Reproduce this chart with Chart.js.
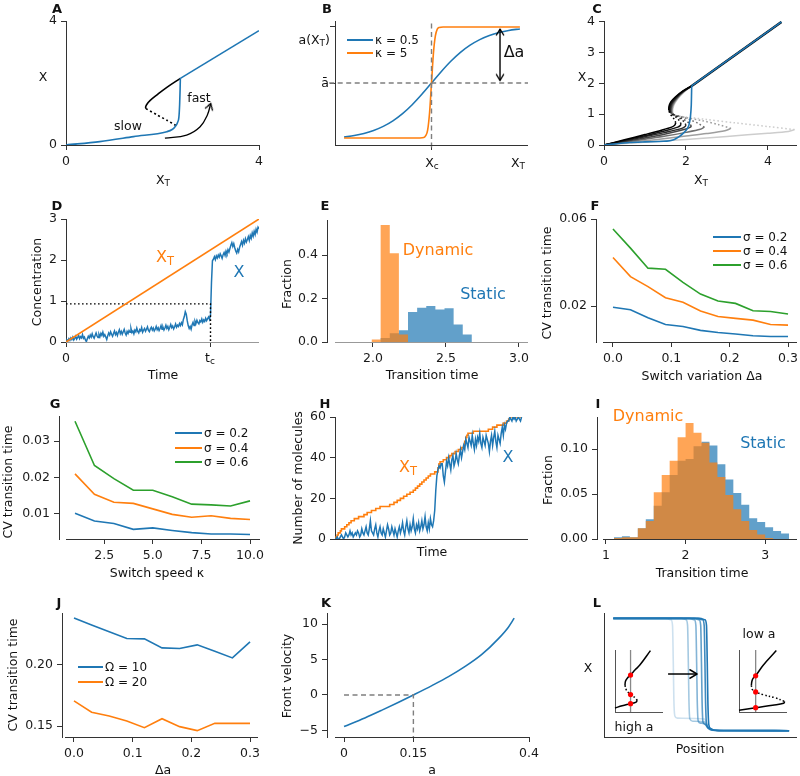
<!DOCTYPE html>
<html><head><meta charset="utf-8">
<script src="https://cdn.jsdelivr.net/npm/chart.js@4/dist/chart.umd.min.js"></script>
<style>
html,body{margin:0;padding:0;background:#fff;}
#root{position:relative;width:800px;height:776px;overflow:hidden;background:#fff;font-family:'DejaVu Sans',sans-serif;color:#111;}
#root canvas{position:absolute;}
.t{position:absolute;white-space:nowrap;line-height:1;transform:translate(-50%,-50%);}
.t sub{font-size:72%;vertical-align:-0.28em;line-height:0;}
.lg{position:absolute;height:1.6px;}
</style></head><body><div id="root"></div>
<script>
// ---------------- data ----------------
// A: bifurcation sketch
const aBlue = [[0,0],[0.7,0.11],[1.4,0.27],[2.09,0.43],[2.2,0.5],[2.26,0.59],[2.31,0.72],[2.34,0.9],[2.355,1.3],[2.365,1.8],[2.37,2.15]];
const aBlueHigh = [[2.37,2.15],[4,3.69]];
const aUpper = [[2.37,2.15],[2.09,1.86],[1.88,1.61],[1.74,1.43],[1.67,1.3],[1.65,1.22],[1.66,1.17]];
const aUnstable = [[1.66,1.17],[1.9,0.96],[2.1,0.79],[2.28,0.63]];
const aArrow = [[2.05,0.22],[2.5,0.32],[2.78,0.59],[2.93,0.97],[3.0,1.34]];
// B: switch functions
const bX = [0.047,0.1,0.15,0.2,0.25,0.3,0.35,0.4,0.45,0.5,0.55,0.6,0.65,0.7,0.75,0.8,0.85,0.9,0.958];
const bK05 = [0.064,0.076,0.093,0.117,0.150,0.195,0.253,0.325,0.409,0.5,0.591,0.675,0.747,0.805,0.850,0.883,0.907,0.924,0.936];
const bX5 = [0.047,0.44,0.46,0.47,0.48,0.49,0.5,0.51,0.52,0.53,0.54,0.56,0.958];
const bK5 = [0.056,0.057,0.06,0.075,0.12,0.26,0.5,0.74,0.88,0.935,0.948,0.952,0.952];
const bDeltaA = [[0.855,0.52],[0.855,0.935]];
// C: family of bifurcation curves
const cLower = [
 [[0,0],[0.5,0.17],[1.0,0.34],[1.4,0.48],[1.65,0.58],[1.73,0.65],[1.75,0.72]],
 [[0,0],[0.5,0.15],[1.0,0.3],[1.5,0.46],[1.8,0.58],[1.86,0.63],[1.88,0.68]],
 [[0,0],[0.5,0.13],[1.0,0.27],[1.5,0.41],[1.9,0.54],[1.98,0.6],[2.0,0.65]],
 [[0,0],[0.5,0.11],[1.0,0.23],[1.5,0.36],[2.0,0.52],[2.11,0.58],[2.13,0.62]],
 [[0,0],[0.5,0.09],[1.0,0.19],[1.5,0.29],[2.0,0.41],[2.35,0.51],[2.45,0.58]],
 [[0,0],[0.5,0.07],[1.0,0.14],[1.5,0.21],[2.0,0.29],[2.5,0.37],[2.95,0.46],[3.1,0.54]],
 [[0,0],[1.0,0.09],[2.0,0.18],[3.0,0.28],[4.0,0.38],[4.5,0.44],[4.65,0.5]]
];
const cUnstable = [
 [[1.75,0.72],[1.73,0.8],[1.68,0.9],[1.62,1.0],[1.58,1.12]],
 [[1.88,0.68],[1.85,0.77],[1.78,0.88],[1.68,0.98],[1.6,1.08]],
 [[2.0,0.65],[1.96,0.74],[1.87,0.85],[1.75,0.95],[1.62,1.05]],
 [[2.13,0.62],[2.07,0.72],[1.95,0.83],[1.8,0.93],[1.64,1.02]],
 [[2.45,0.58],[2.3,0.7],[2.1,0.82],[1.88,0.92],[1.66,1.0]],
 [[3.1,0.54],[2.8,0.66],[2.4,0.79],[2.0,0.89],[1.68,0.98]],
 [[4.65,0.5],[4.0,0.6],[3.2,0.72],[2.5,0.83],[1.7,0.96]]
];
const cUpper = [
 [[1.58,1.12],[1.585,1.25],[1.63,1.4],[1.74,1.56],[1.92,1.75],[2.14,1.92]],
 [[1.6,1.08],[1.6,1.22],[1.645,1.38],[1.75,1.55],[1.93,1.75],[2.14,1.92]],
 [[1.62,1.05],[1.615,1.19],[1.655,1.36],[1.76,1.54],[1.93,1.74],[2.14,1.92]],
 [[1.64,1.02],[1.63,1.16],[1.665,1.34],[1.77,1.53],[1.94,1.74],[2.14,1.92]],
 [[1.66,1.0],[1.645,1.13],[1.68,1.32],[1.78,1.52],[1.94,1.73],[2.14,1.92]],
 [[1.68,0.98],[1.66,1.1],[1.69,1.3],[1.79,1.51],[1.95,1.73],[2.14,1.92]],
 [[1.7,0.96],[1.675,1.08],[1.7,1.28],[1.8,1.5],[1.95,1.72],[2.14,1.92]]
];
const cHigh = [[2.14,1.92],[4.33,4.0]];
const cBlue = [[0,0],[0.63,0.08],[1.0,0.1],[1.45,0.12],[1.61,0.14],[1.7,0.17],[1.77,0.22],[1.85,0.29],[1.93,0.38],[2.0,0.47],[2.06,0.6],[2.09,0.75],[2.11,0.92],[2.13,1.3],[2.14,1.92]];
const cGrays = ['#000000','#161616','#2b2b2b','#454545','#707070','#9e9e9e','#cdcdcd'];
// D: stochastic trajectory (sample index on the time axis)
const dX = [0.02,0.05,0.03,0.08,0.04,0.10,0.06,0.12,0.05,0.09,0.14,0.07,0.11,0.16,0.08,0.13,0.10,0.18,0.09,0.12,
 0.05,0.01,0.08,0.14,0.10,0.17,0.12,0.20,0.13,0.09,0.16,0.22,0.15,0.11,0.19,0.13,0.21,0.16,0.24,0.14,
 0.18,0.12,0.06,0.15,0.22,0.17,0.25,0.19,0.14,0.21,0.27,0.18,0.23,0.16,0.24,0.30,0.20,0.26,0.19,0.25,
 0.31,0.22,0.17,0.26,0.21,0.28,0.24,0.33,0.23,0.27,0.20,0.29,0.25,0.34,0.26,0.22,0.30,0.27,0.35,0.24,
 0.29,0.33,0.26,0.31,0.37,0.28,0.25,0.32,0.36,0.29,0.34,0.27,0.31,0.38,0.30,0.35,0.28,0.33,0.40,0.31,
 0.36,0.29,0.34,0.41,0.33,0.38,0.30,0.36,0.43,0.35,0.39,0.32,0.37,0.44,0.36,0.41,0.38,0.45,0.40,0.47,
 0.42,0.55,0.62,0.74,0.68,0.52,0.40,0.33,0.38,0.31,0.42,0.48,0.40,0.51,0.45,0.53,0.47,0.44,0.52,0.49,
 0.56,0.48,0.54,0.50,0.58,0.52,0.57,0.61,0.55,0.66,
 1.45,1.98,2.02,2.08,2.01,2.10,2.05,2.12,2.07,2.15,2.10,2.04,2.13,2.18,2.11,2.22,2.16,2.25,2.19,2.28,
 2.36,2.42,2.33,2.40,2.30,2.22,2.17,2.26,2.20,2.31,
 2.38,2.45,2.36,2.48,2.41,2.52,2.44,2.50,2.57,2.48,2.60,2.53,2.66,2.58,2.70,2.62,2.75,2.68,2.80,2.76];
const dXT = [[0,0],[199,3]];
const dTc = 149, dThreshold = 0.93;
// E: transition-time histograms
const eEdges = [1.99,2.0525,2.115,2.1775,2.24,2.3025,2.365,2.4275,2.49,2.5525,2.615,2.6775];
const eDynamic = [0.012,0.538,0.408,0.034,0,0,0,0,0,0,0];
const eStatic = [0,0.018,0.04,0.054,0.138,0.158,0.165,0.15,0.155,0.08,0.034];
// F
const fDa = [0,0.03,0.06,0.09,0.12,0.15,0.18,0.21,0.24,0.27,0.30];
const fS02 = [0.0194,0.0183,0.0146,0.0115,0.0106,0.0088,0.0078,0.0071,0.0063,0.006,0.006];
const fS04 = [0.0423,0.0335,0.0289,0.0238,0.0217,0.0177,0.0152,0.0143,0.0135,0.0115,0.0112];
const fS06 = [0.0554,0.0466,0.0374,0.0369,0.0309,0.0255,0.0223,0.0212,0.0178,0.0175,0.0163];
// G
const gK = [1,2,3,4,5,6,7,8,9,10];
const gS02 = [0.0102,0.0081,0.0074,0.0058,0.0062,0.0055,0.0049,0.0045,0.0045,0.0044];
const gS04 = [0.021,0.0154,0.0132,0.0129,0.0114,0.0099,0.0091,0.0095,0.0088,0.0085];
const gS06 = [0.0354,0.0233,0.0197,0.0165,0.0165,0.0147,0.0127,0.0125,0.0122,0.0136];
// H: molecule counts (sample index on the time axis)
const hXT = [[0,0],[1,1],[2,2],[3,3],[5,4],[6,5],[9,6],[11,7],[13,8],[15,9],[18,10],[22,11],[27,12],[30,13],[34,14],[38,15],[42,16],[51,17],[55,18],[58,19],[61,20],[64,21],[67,22],[70,23],[73,24],[75,25],[77,26],[79,27],[81,28],[83,29],[85,30],[87,31],[89,32],[93,33],[96,35],[97,37],[98,38],[101,39],[104,40],[107,41],[109,42],[112,43],[115,44],[118,45],[120,46],[121,48],[122,50],[123,51],[124,52],[129,53],[143,54],[147,55],[151,56],[157,57],[160,58],[162,59],[163,60],[174,60]];
const hX = [0,0,1,0,0,1,2,1,0,1,3,2,1,2,4,2,3,1,2,3,
 2,4,3,1,2,5,3,2,4,6,3,2,5,9,4,3,2,5,7,3,
 1,4,6,3,2,5,3,1,4,7,5,2,3,6,4,2,5,3,1,4,
 6,3,5,8,4,2,6,9,5,3,7,4,6,10,5,3,7,5,8,4,
 6,9,5,7,11,6,4,8,5,10,7,6,9,14,24,31,34,36,35,37,
 37,31,28,33,38,36,40,37,34,39,41,36,38,42,39,37,41,44,40,43,
 46,44,49,47,45,50,48,46,51,47,44,49,46,50,48,52,47,45,50,48,
 46,51,49,47,43,48,51,46,50,53,48,45,51,49,47,52,55,51,56,54,
 57,58,58,60,59,58,60,59,60,58,59,60,59,58,60];
// I
const iEdges = [1.1,1.2,1.3,1.4,1.5,1.6,1.7,1.8,1.9,2.0,2.1,2.2,2.3,2.4,2.5,2.6,2.7,2.8,2.9,3.0,3.1,3.2,3.3];
const iStatic = [0.002,0.003,0.002,0.012,0.022,0.037,0.052,0.071,0.087,0.089,0.103,0.108,0.104,0.083,0.066,0.051,0.038,0.023,0.019,0.013,0.009,0.006];
const iDynamic = [0.001,0.002,0.002,0.012,0.02,0.052,0.071,0.087,0.113,0.129,0.118,0.107,0.085,0.069,0.049,0.033,0.02,0.01,0.005,0.001,0,0];
// J
const jDa = [0,0.03,0.06,0.09,0.12,0.15,0.18,0.21,0.24,0.27,0.30];
const jO10 = [0.2385,0.2327,0.2272,0.2217,0.2214,0.214,0.2135,0.2165,0.2113,0.2058,0.219];
const jO20 = [0.1706,0.1613,0.1582,0.1541,0.1486,0.156,0.1495,0.1462,0.1522,0.1522,0.1522];
// K
const kA = [0,0.045,0.081,0.117,0.15,0.19,0.226,0.262,0.298,0.334,0.355,0.368];
const kV = [-4.45,-3.235,-2.17,-1.06,0,1.32,2.58,4.02,5.71,7.94,9.52,10.82];
const kGuide = [[0,0],[0.15,0],[0.15,-5.92]];
// L: travelling fronts and insets
const lFronts = [
 [[0.048,0.957],[0.495,0.957],[0.523,0.945],[0.531,0.9],[0.535,0.6],[0.538,0.3],[0.543,0.1],[0.552,0.07],[0.57,0.055],[0.62,0.051],[0.959,0.051]],
 [[0.048,0.957],[0.483,0.957],[0.511,0.945],[0.519,0.9],[0.523,0.6],[0.526,0.3],[0.531,0.11],[0.542,0.075],[0.56,0.056],[0.6,0.052],[0.959,0.051]],
 [[0.048,0.957],[0.465,0.957],[0.493,0.945],[0.501,0.9],[0.505,0.6],[0.508,0.3],[0.513,0.12],[0.525,0.1],[0.54,0.07],[0.56,0.055],[0.6,0.052],[0.959,0.051]],
 [[0.048,0.957],[0.44,0.957],[0.468,0.945],[0.476,0.9],[0.48,0.6],[0.483,0.3],[0.488,0.13],[0.5,0.112],[0.52,0.108],[0.54,0.072],[0.56,0.056],[0.6,0.052],[0.959,0.051]],
 [[0.048,0.957],[0.40,0.957],[0.425,0.945],[0.433,0.9],[0.437,0.6],[0.44,0.3],[0.445,0.145],[0.46,0.127],[0.52,0.122],[0.54,0.075],[0.56,0.058],[0.6,0.052],[0.959,0.051]],
 [[0.048,0.957],[0.32,0.957],[0.347,0.945],[0.355,0.9],[0.359,0.6],[0.362,0.3],[0.367,0.17],[0.38,0.152],[0.52,0.145],[0.54,0.08],[0.56,0.06],[0.6,0.052],[0.959,0.051]]
];
const lAlphas = [1,0.85,0.7,0.55,0.4,0.22];
const lArrow = [[0.332,0.508],[0.482,0.508]];
const lHighUp = [[0.207,0.43],[0.22,0.5],[0.26,0.55],[0.324,0.595],[0.42,0.68],[0.517,0.757],[0.738,0.99]];
const lHighMid = [[0.207,0.43],[0.24,0.35],[0.324,0.281],[0.42,0.23],[0.462,0.19]];
const lHighLow = [[0.462,0.19],[0.44,0.16],[0.324,0.135],[0.15,0.1],[0,0.065]];
const lHighDots = [[0.324,0.595],[0.324,0.281],[0.324,0.135]];
const lHighLine = [[0.324,0],[0.324,1]];
const lLowUp = [[0.257,0.43],[0.27,0.5],[0.3,0.55],[0.347,0.584],[0.5,0.75],[0.778,0.99]];
const lLowMid = [[0.257,0.43],[0.28,0.36],[0.347,0.324],[0.5,0.28],[0.75,0.23],[0.951,0.17]];
const lLowLow = [[0.951,0.17],[0.93,0.14],[0.7,0.11],[0.347,0.07],[0,0.027]];
const lLowDots = [[0.347,0.584],[0.347,0.324],[0.347,0.07]];
const lLowLine = [[0.347,0],[0.347,1]];

// ---------------- setup ----------------
const BLUE='#1f77b4', ORANGE='#ff7f0e', GREEN='#2ca02c', SP='#333', GRAY='#7f7f7f';
const FONT="'DejaVu Sans', sans-serif";
Chart.defaults.font.family=FONT; Chart.defaults.font.size=12.5; Chart.defaults.color='#1a1a1a';
Chart.defaults.plugins.legend.display=false; Chart.defaults.plugins.tooltip.enabled=false;
Chart.defaults.animation=false;
const root=document.getElementById('root');

Chart.register({id:'spines', defaults:{off:null,color:SP}, afterDraw(chart,args,o){
  if(o.off===null||o.off===undefined) return;
  const a=chart.chartArea,c=chart.ctx; c.save(); c.strokeStyle=o.color; c.lineWidth=1;
  const y=Math.round(a.bottom)+0.5; c.beginPath(); c.moveTo(a.left+o.off,y); c.lineTo(a.right,y); c.stroke(); c.restore();
}});

function chev(color,s,lw){
  const c=document.createElement('canvas'); c.width=c.height=2*s+6; const g=c.getContext('2d'); const m=s+3;
  g.strokeStyle=color; g.lineWidth=lw||1.4; g.lineCap='round'; g.lineJoin='round';
  g.beginPath(); g.moveTo(m-s*0.6,m+s); g.lineTo(m,m); g.lineTo(m+s*0.6,m+s); g.stroke(); return c;
}
const CHEV=chev('#000',6,1.4);

function P(a){return a.map(p=>({x:p[0],y:p[1]}));}
function XY(xs,ys){return xs.map((x,i)=>({x,y:ys[i]}));}
function idx(ys){return ys.map((y,i)=>({x:i,y}));}
function hist(edges,h){const d=[{x:edges[0],y:0}]; h.forEach((v,i)=>d.push({x:edges[i],y:v})); d.push({x:edges[edges.length-1],y:0}); return d;}
function ds(data,color,extra){return Object.assign({data,borderColor:color,backgroundColor:color,borderWidth:1.6,pointRadius:0,pointHoverRadius:0,fill:false,tension:0},extra||{});}

function axis(min,max,ticks,fmt,o){
  o=o||{}; const show=!!(ticks&&ticks.length);
  const ax={type:'linear',min,max,
    ticks:{display:show,callback:fmt||(v=>String(v)),padding:4,maxRotation:0,minRotation:0,autoSkip:false,font:{size:12.5,family:FONT},color:'#1a1a1a'},
    grid:{display:show,drawOnChartArea:false,drawTicks:true,tickLength:5,color:SP,tickColor:SP,lineWidth:1},
    border:{display:o.border!==false,color:o.bc||SP,width:1}};
  if(show) ax.afterBuildTicks=s=>{s.ticks=ticks.map(v=>({value:v}));};
  return ax;
}
function makeChart(plot,cfg,pad){
  pad=pad||[45,12,22,30];
  const [l,t,r,b]=plot; const W=r-l+pad[0]+pad[2], H=b-t+pad[1]+pad[3];
  const cv=document.createElement('canvas'); cv.width=W; cv.height=H;
  cv.style.left=(l-pad[0])+'px'; cv.style.top=(t-pad[1])+'px'; cv.style.width=W+'px'; cv.style.height=H+'px';
  root.appendChild(cv);
  const o=cfg.options;
  o.responsive=false; o.maintainAspectRatio=false; o.animation=false; o.devicePixelRatio=1;
  o.layout={padding:{left:0,top:pad[1],right:pad[2],bottom:0}};
  o.scales.x.afterFit=s=>{s.height=pad[3];};
  o.scales.y.afterFit=s=>{s.width=pad[0];};
  return new Chart(cv,cfg);
}
function txt(html,x,y,o){
  o=o||{}; const d=document.createElement('div'); d.className='t'; d.innerHTML=html;
  d.style.left=x+'px'; d.style.top=y+'px'; d.style.fontSize=(o.size||12.5)+'px';
  if(o.color) d.style.color=o.color; if(o.bold) d.style.fontWeight='bold';
  let tr='translate(-50%,-50%)';
  if(o.anchor==='left') tr='translate(0,-50%)';
  if(o.anchor==='right') tr='translate(-100%,-50%)';
  if(o.rot) tr+=' rotate(-90deg)';
  d.style.transform=tr; root.appendChild(d);
}
function legendRow(x1,x2,y,color,label){
  const d=document.createElement('div'); d.className='lg';
  d.style.left=x1+'px'; d.style.top=(y-0.8)+'px'; d.style.width=(x2-x1)+'px'; d.style.background=color; root.appendChild(d);
  txt(label,x2+2,y,{anchor:'left',size:12});
}
const f1=v=>v.toFixed(1), f2=v=>v.toFixed(2), mn=v=>v<0?'\u2212'+Math.abs(v):String(v);
const X={border:false};

// ---------------- A ----------------
makeChart([66,21,259,145],{type:'line',data:{datasets:[
  ds(P(aArrow),'#000',{borderWidth:1.3,tension:0.4,pointStyle:CHEV,pointRadius:[0,0,0,0,5],pointRotation:17}),
  ds(P(aBlue),BLUE,{cubicInterpolationMode:'monotone'}),
  ds(P(aBlueHigh),BLUE),
  ds(P(aUpper),'#000',{tension:0.4}),
  ds(P(aUnstable),'#000',{borderDash:[2,2.6],tension:0.2})
]},options:{scales:{x:axis(0,4,[0,4],null,X),y:axis(0,4,[0,4])},plugins:{spines:{off:0}}}});

// ---------------- B ----------------
makeChart([335,21,528,145],{type:'line',data:{datasets:[
  ds(P(bDeltaA),'#000',{borderWidth:1.4,pointStyle:CHEV,pointRadius:[5,5],pointRotation:[180,0]}),
  ds(P([[0.5,-0.02],[0.5,1]]),GRAY,{borderWidth:1.4,borderDash:[5,3.5],clip:false}),
  ds(P([[-0.03,0.5],[1,0.5]]),GRAY,{borderWidth:1.4,borderDash:[5,3.5],clip:false}),
  ds(XY(bX5,bK5),ORANGE,{cubicInterpolationMode:'monotone'}),
  ds(XY(bX,bK05),BLUE,{cubicInterpolationMode:'monotone'})
]},options:{scales:{x:axis(0,1,[0.5],()=>'',X),y:axis(0,1,[0.5,0.952],()=>'')},plugins:{spines:{off:0}}}});

// ---------------- C ----------------
(function(){
  const sets=[ds(P(cBlue),BLUE,{tension:0.2}), ds(P(cHigh),BLUE), ds(P(cHigh),'#000',{borderWidth:2.4})];
  for(let i=0;i<cLower.length;i++){
    sets.push(ds(P(cLower[i]),cGrays[i],{tension:0.3,borderWidth:1.5}));
    sets.push(ds(P(cUnstable[i]),cGrays[i],{tension:0.3,borderWidth:1.5,borderDash:[1.6,2.4]}));
    sets.push(ds(P(cUpper[i]),cGrays[i],{tension:0.3,borderWidth:1.5}));
  }
  makeChart([604,21,797,145],{type:'line',data:{datasets:sets},
    options:{scales:{x:axis(0,4.71,[0,2,4],null,X),y:axis(0,4.03,[0,1,2,3,4])},plugins:{spines:{off:0}}}});
})();

// ---------------- D ----------------
makeChart([66,219,259,342],{type:'line',data:{datasets:[
  ds(P(dXT),ORANGE),
  ds(P([[0,dThreshold],[dTc,dThreshold],[dTc,0]]),'#000',{borderWidth:1.4,borderDash:[1.6,2.4]}),
  ds(idx(dX),BLUE,{borderWidth:1.5})
]},options:{scales:{x:axis(0,199,[0,dTc],v=>v===0?'0':'',X),y:axis(0,3,[0,1,2,3])},plugins:{spines:{off:0,color:'#999'}}}});

// ---------------- E ----------------
makeChart([327,220,528,342],{type:'line',data:{datasets:[
  ds(hist(eEdges,eDynamic),'rgba(255,127,14,0.7)',{borderWidth:0,stepped:true,fill:'origin'}),
  ds(hist(eEdges,eStatic),'rgba(31,119,180,0.7)',{borderWidth:0,stepped:true,fill:'origin'})
]},options:{scales:{x:axis(1.685,3.062,[2,2.5,3],f1,X),y:axis(0,0.561,[0,0.2,0.4],f1)},plugins:{spines:{off:8,color:'#999'}}}});

// ---------------- F ----------------
makeChart([596,219,797,342],{type:'line',data:{datasets:[
  ds(XY(fDa,fS02),BLUE), ds(XY(fDa,fS04),ORANGE), ds(XY(fDa,fS06),GREEN)
]},options:{scales:{x:axis(-0.0291,0.3154,[0,0.1,0.2,0.3],f1,X),y:axis(0.00345,0.06,[0.02,0.06],f2)},plugins:{spines:{off:7}}}});

// ---------------- G ----------------
makeChart([59,416,260,539],{type:'line',data:{datasets:[
  ds(XY(gK,gS02),BLUE), ds(XY(gK,gS04),ORANGE), ds(XY(gK,gS06),GREEN)
]},options:{scales:{x:axis(0.177,10.514,[2.5,5,7.5,10],f1,X),y:axis(0.00315,0.03685,[0.01,0.02,0.03],f2)},plugins:{spines:{off:7}}}});

// ---------------- H ----------------
makeChart([335,417,528,539],{type:'line',data:{datasets:[
  ds(idx(hX),BLUE,{borderWidth:1.5}),
  ds(P(hXT),ORANGE,{stepped:true})
]},options:{scales:{x:axis(0,180,[],null,X),y:axis(0,60,[0,20,40,60])},plugins:{spines:{off:0}}}});

// ---------------- I ----------------
makeChart([597,417,797,539],{type:'line',data:{datasets:[
  ds(hist(iEdges,iDynamic),'rgba(255,127,14,0.7)',{borderWidth:0,stepped:true,fill:'origin'}),
  ds(hist(iEdges,iStatic),'rgba(31,119,180,0.7)',{borderWidth:0,stepped:true,fill:'origin'})
]},options:{scales:{x:axis(0.887,3.40,[1,2,3],null,X),y:axis(0,0.1356,[0,0.05,0.1],f2)},plugins:{spines:{off:6}}}});

// ---------------- J ----------------
makeChart([62,613,258,737],{type:'line',data:{datasets:[
  ds(XY(jDa,jO10),BLUE), ds(XY(jDa,jO20),ORANGE)
]},options:{scales:{x:axis(-0.02045,0.3136,[0,0.1,0.2,0.3],f1,X),y:axis(0.141,0.2426,[0.15,0.2],f2)},plugins:{spines:{off:3}}}});

// ---------------- K ----------------
makeChart([327,613,529,737],{type:'line',data:{datasets:[
  ds(P(kGuide),GRAY,{borderWidth:1.4,borderDash:[5,3.5]}),
  ds(XY(kA,kV),BLUE,{cubicInterpolationMode:'monotone'})
]},options:{scales:{x:axis(-0.0368,0.4,[0,0.15,0.4],v=>String(v),X),y:axis(-5.92,11.55,[-5,0,5,10],mn)},plugins:{spines:{off:8}}}});

// ---------------- L ----------------
(function(){
  const sets=[ds(P(lArrow),'#000',{borderWidth:1.5,pointStyle:chev('#000',7,1.5),pointRadius:[0,5],pointRotation:90})];
  lFronts.forEach((f,i)=>sets.push(ds(P(f),'rgba(31,119,180,'+lAlphas[i]+')',{cubicInterpolationMode:'monotone',borderWidth:1.6})));
  makeChart([604,613,797,737],{type:'line',data:{datasets:sets},
    options:{scales:{x:axis(0,1,[],null,X),y:axis(0,1,[])},plugins:{spines:{off:0}}}});
  function inset(plot,up,mid,low,dots,vline){
    makeChart(plot,{type:'line',data:{datasets:[
      ds(P(dots),'#ff0000',{showLine:false,pointRadius:2.6,pointBackgroundColor:'#ff0000',pointBorderWidth:0,clip:false}),
      ds(P(up),'#000',{tension:0.4,borderWidth:1.5,clip:false}),
      ds(P(mid),'#000',{tension:0.4,borderWidth:1.5,borderDash:[1.5,2.2],clip:false}),
      ds(P(low),'#000',{tension:0.4,borderWidth:1.5,clip:false}),
      ds(P(vline),'#888',{borderWidth:1.3,clip:false})
    ]},options:{scales:{x:axis(0,1,[],null,X),y:axis(0,1,[],null,{bc:'#555'})},plugins:{spines:{off:0,color:'#555'}}}},[3,3,3,3]);
  }
  inset([615,650,663,712],lHighUp,lHighMid,lHighLow,lHighDots,lHighLine);
  inset([739,650,787,712],lLowUp,lLowMid,lLowLow,lLowDots,lLowLine);
})();

// ---------------- texts ----------------
[['A',57,8],['B',327,8],['C',597,8],['D',57,205],['E',325,205],['F',595,205],['G',55,403],['H',325,403],['I',598,403],['J',59,602],['K',326,602],['L',597,602]]
  .forEach(p=>txt(p[0],p[1],p[2],{bold:true,size:13}));
// A
txt('X',43,77); txt('X<sub>T</sub>',163,180); txt('slow',128,126); txt('fast',199,98);
// B
txt('a(X<sub>T</sub>)',330,40,{anchor:'right'}); txt('\u0101',329,83,{anchor:'right'});
txt('X<sub>c</sub>',432,163); txt('X<sub>T</sub>',518,163); txt('\u0394a',514,52,{size:16});
legendRow(347,373,40,BLUE,'\u03ba = 0.5'); legendRow(347,373,53,ORANGE,'\u03ba = 5');
// C
txt('X',582,77); txt('X<sub>T</sub>',701,180);
// D
txt('Concentration',37,282,{rot:true}); txt('Time',163,375); txt('t<sub>c</sub>',210,358);
txt('X<sub>T</sub>',165,257,{size:16,color:ORANGE}); txt('X',239,272,{size:16,color:BLUE});
// E
txt('Fraction',287,284,{rot:true}); txt('Transition time',432,375);
txt('Dynamic',438,250,{size:16,color:ORANGE}); txt('Static',483,294,{size:16,color:BLUE});
// F
txt('CV transition time',547,283,{rot:true}); txt('Switch variation \u0394a',702,376);
legendRow(713,741,237,BLUE,'\u03c3 = 0.2'); legendRow(713,741,251,ORANGE,'\u03c3 = 0.4'); legendRow(713,741,265,GREEN,'\u03c3 = 0.6');
// G
txt('CV transition time',8,482,{rot:true}); txt('Switch speed \u03ba',157,573);
legendRow(175,202,433,BLUE,'\u03c3 = 0.2'); legendRow(175,202,448,ORANGE,'\u03c3 = 0.4'); legendRow(175,202,462,GREEN,'\u03c3 = 0.6');
// H
txt('Number of molecules',298,478,{rot:true}); txt('Time',432,552);
txt('X<sub>T</sub>',408,467,{size:16,color:ORANGE}); txt('X',508,457,{size:16,color:BLUE});
// I
txt('Fraction',548,480,{rot:true}); txt('Transition time',702,573);
txt('Dynamic',648,416,{size:16,color:ORANGE}); txt('Static',763,443,{size:16,color:BLUE});
// J
txt('CV transition time',13,675,{rot:true}); txt('\u0394a',163,770);
legendRow(78,103,667,BLUE,'\u03a9 = 10'); legendRow(78,103,682,ORANGE,'\u03a9 = 20');
// K
txt('Front velocity',287,676,{rot:true}); txt('a',432,770);
// L
txt('X',588,668); txt('Position',700,749); txt('high a',634,727); txt('low a',759,634);
</script></body></html>
